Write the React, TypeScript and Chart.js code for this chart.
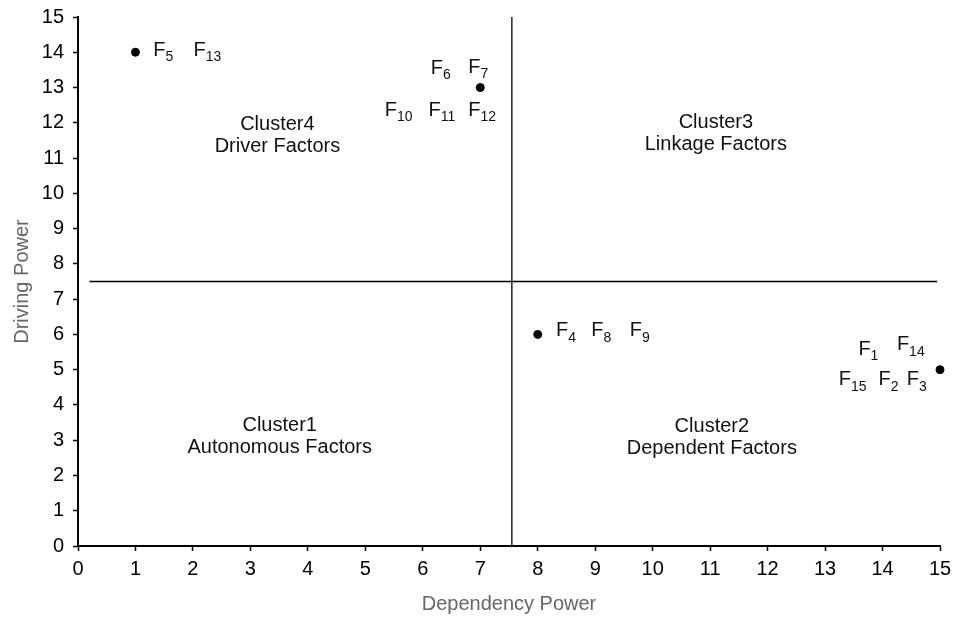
import React, { useEffect, useRef } from "react";
import { Chart, registerables } from "chart.js";

Chart.register(...registerables);

// Cluster representative points
const pointX = [1, 7, 8, 15];
const pointY = [14, 13, 6, 5];

// Factor labels (subscript index) and their anchor positions in data units
const factorSubs = ["5", "13", "6", "7", "10", "11", "12", "4", "8", "9", "1", "14", "15", "2", "3"];
const factorX = [1.31, 2.01, 6.14, 6.79, 5.34, 6.1, 6.79, 8.32, 8.93, 9.6, 13.58, 14.25, 13.24, 13.93, 14.42];
const factorY = [14.06, 14.06, 13.55, 13.58, 12.36, 12.36, 12.36, 6.1, 6.1, 6.1, 5.58, 5.7, 4.71, 4.71, 4.71];

// Quadrant captions
const clusterTitles = ["Cluster4", "Cluster3", "Cluster1", "Cluster2"];
const clusterNames = ["Driver Factors", "Linkage Factors", "Autonomous Factors", "Dependent Factors"];
const clusterX = [3.47, 11.1, 3.51, 11.03];
const clusterY = [11.94, 12.0, 3.42, 3.38];

// Quadrant divider lines
const dividerX = 7.55;
const dividerY = 7.5;
const hLineStart = 0.2;
const hLineEnd = 14.95;

// Axis config
const axisMin = 0;
const axisMax = 15;
const xTitle = "Dependency Power";
const yTitle = "Driving Power";

const FONT = "'Liberation Sans', Arial, sans-serif";

const labelPlugin = {
  id: "factorLabels",
  afterDatasetsDraw(chart: any) {
    const { ctx, scales } = chart;
    const xs = scales.x;
    const ys = scales.y;
    ctx.save();
    ctx.fillStyle = "#111";
    ctx.textBaseline = "middle";
    for (let i = 0; i < factorSubs.length; i++) {
      const px = xs.getPixelForValue(factorX[i]);
      const py = ys.getPixelForValue(factorY[i]);
      ctx.textAlign = "left";
      ctx.font = `20px ${FONT}`;
      ctx.fillText("F", px, py);
      const w = ctx.measureText("F").width;
      ctx.font = `14px ${FONT}`;
      ctx.fillText(factorSubs[i], px + w, py + 7);
    }
    ctx.textAlign = "center";
    ctx.font = `20px ${FONT}`;
    for (let i = 0; i < clusterTitles.length; i++) {
      const px = xs.getPixelForValue(clusterX[i]);
      const py = ys.getPixelForValue(clusterY[i]);
      ctx.fillText(clusterTitles[i], px, py);
      ctx.fillText(clusterNames[i], px, py + 22);
    }
    ctx.restore();
  },
};

export default function App() {
  const ref = useRef<HTMLCanvasElement | null>(null);

  useEffect(() => {
    document.body.style.margin = "0";
    if (!ref.current) return;
    const axisCommon = (title: string, isX: boolean) => ({
      type: "linear" as const,
      min: axisMin,
      max: axisMax,
      ticks: {
        stepSize: 1,
        color: "#000",
        padding: isX ? 6 : 9,
        font: { family: FONT, size: 20 },
      },
      grid: {
        display: true,
        drawOnChartArea: false,
        drawTicks: true,
        tickLength: 5,
        tickColor: "#000",
        tickWidth: 1.5,
      },
      border: { display: true, color: "#000", width: 2 },
      title: {
        display: true,
        text: title,
        color: "#666",
        font: { family: FONT, size: 20 },
        padding: isX ? { top: 0, bottom: 3 } : { top: 10, bottom: 0 },
      },
      afterFit: (scale: any) => {
        if (isX) {
          scale.height = 73;
          scale.paddingLeft = 0;
          scale.paddingRight = 0;
        } else {
          scale.width = 78;
          scale.paddingTop = 0;
          scale.paddingBottom = 0;
        }
      },
    });

    const chart = new Chart(ref.current, {
      type: "scatter",
      data: {
        datasets: [
          {
            data: pointX.map((x, i) => ({ x, y: pointY[i] })),
            backgroundColor: "#000",
            borderColor: "#000",
            pointRadius: 4,
            showLine: false,
            clip: false,
          },
          {
            data: [
              { x: dividerX, y: axisMin },
              { x: dividerX, y: axisMax },
            ],
            borderColor: "#000",
            borderWidth: 1.3,
            pointRadius: 0,
            showLine: true,
          },
          {
            data: [
              { x: hLineStart, y: dividerY },
              { x: hLineEnd, y: dividerY },
            ],
            borderColor: "#000",
            borderWidth: 1.3,
            pointRadius: 0,
            showLine: true,
          },
        ],
      },
      options: {
        responsive: false,
        animation: false,
        layout: { padding: { top: 17, right: 15, bottom: 0, left: 0 } },
        plugins: {
          legend: { display: false },
          tooltip: { enabled: false },
        },
        scales: {
          x: axisCommon(xTitle, true) as any,
          y: axisCommon(yTitle, false) as any,
        },
      },
      plugins: [labelPlugin],
    });
    return () => chart.destroy();
  }, []);

  return (
    <div style={{ width: 955, height: 619, background: "#fff" }}>
      <canvas ref={ref} width={955} height={619} style={{ display: "block" }} />
    </div>
  );
}
